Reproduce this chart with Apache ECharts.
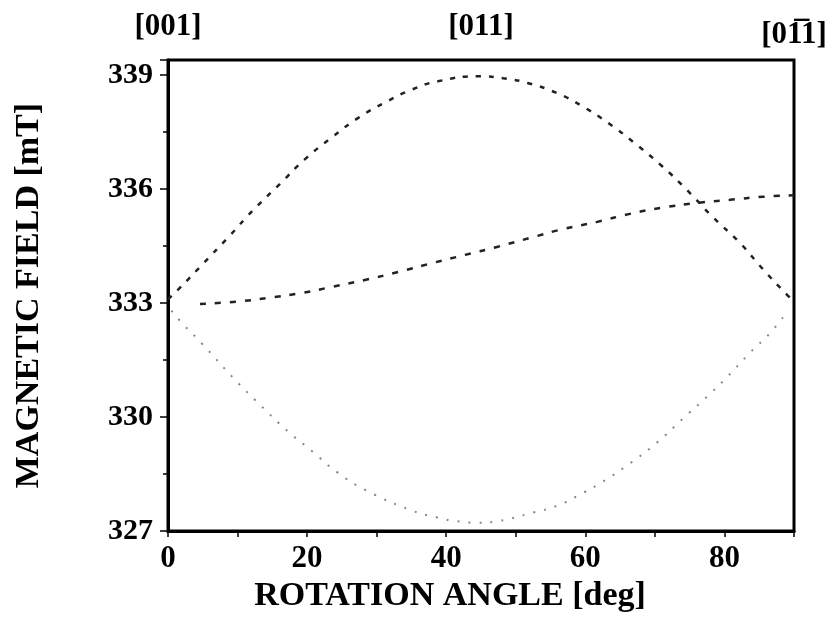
<!DOCTYPE html>
<html lang="en">
<head>
    <meta charset="UTF-8">
    <title>ESR rotation</title>
    <script src="https://cdn.jsdelivr.net/npm/echarts@6/dist/echarts.min.js"></script>
</head>
<style>
    *{
        margin: 0;
        padding: 0;
    }
    html,body{
        width: 100%;
        height: 100%;
        overflow: hidden;
        background: #fff;
    }
    .container{
        width: 836px;
        height: 618px;
    }
</style>
<body>
<div class="container"></div>
<script>
    // rotation angle [deg] vs resonance field [mT]
    let upperLine = [
        [0, 333.1], [1.7, 333.4], [5.0, 334.03], [8.8, 334.76], [12.2, 335.44], [16.1, 336.14],
        [19.7, 336.79], [23.6, 337.37], [27.3, 337.87], [31.3, 338.29], [34.9, 338.61],
        [38.8, 338.84], [44.9, 338.97], [48.2, 338.92], [51.8, 338.79], [55.9, 338.53],
        [59.5, 338.19], [63.3, 337.74], [67.1, 337.21], [71.0, 336.61], [74.6, 335.98],
        [78.3, 335.27], [82.2, 334.59], [85.5, 333.9], [89.0, 333.22], [90, 333.05]
    ];
    let middleLine = [
        [4.6, 332.98], [9.9, 333.04], [14.4, 333.14], [19.3, 333.27], [23.6, 333.43],
        [28.3, 333.61], [33.1, 333.82], [38.1, 334.06], [42.7, 334.27], [47.3, 334.48],
        [52.5, 334.74], [56.8, 334.95], [61.7, 335.14], [66.4, 335.35], [71.0, 335.51],
        [76.2, 335.64], [80.8, 335.72], [85.5, 335.8], [90, 335.84]
    ];
    let lowerLine = [
        [0.5, 332.8], [2.0, 332.48], [4.9, 331.93], [9.5, 331.01], [13.2, 330.33],
        [17.1, 329.65], [20.8, 329.09], [24.4, 328.54], [28.5, 328.07], [35.1, 327.54],
        [38.7, 327.36], [41.5, 327.26], [44.5, 327.22], [47.3, 327.26], [52.5, 327.49],
        [56.1, 327.68], [59.8, 328.02], [62.5, 328.3], [66.4, 328.78], [70.3, 329.33],
        [74.2, 329.99], [77.8, 330.59], [80.4, 331.06], [83.8, 331.72], [86.5, 332.2],
        [88.6, 332.67]
    ];
    let topLabels = ['[001]', '[011]', '[01\u03051]'];

    let font = "'Liberation Serif', 'Times New Roman', serif";
    let container = document.querySelector('.container');
    let mycharts = echarts.init(container);

    let option = {
        backgroundColor: '#fff',
        animation: false,
        grid: {
            left: 168,
            right: 42,
            top: 60,
            bottom: 86,
            show: true,
            borderColor: '#000',
            borderWidth: 3
        },
        xAxis: [{
            type: 'value',
            min: 0,
            max: 90,
            interval: 10,
            name: 'ROTATION ANGLE [deg]',
            nameLocation: 'middle',
            nameGap: 30,
            nameTextStyle: {
                fontFamily: font,
                fontWeight: 'bold',
                fontSize: 34,
                color: '#000',
                padding: [0, 62, 0, 0]
            },
            axisLine: {lineStyle: {color: '#000', width: 3}},
            axisTick: {length: 6, lineStyle: {color: '#000', width: 1.5}},
            splitLine: {show: false},
            axisLabel: {
                margin: 12,
                fontFamily: font,
                fontWeight: 'bold',
                fontSize: 31,
                color: '#000',
                formatter: function (v) {
                    return (v % 20 === 0 && v < 90) ? String(v) : '';
                }
            }
        }, {
            type: 'value',
            position: 'top',
            min: 0,
            max: 90,
            interval: 45,
            axisLine: {show: false},
            axisTick: {show: false},
            splitLine: {show: false},
            axisLabel: {
                margin: 10,
                fontFamily: font,
                fontWeight: 'bold',
                fontSize: 31,
                color: '#000',
                formatter: function (v) {
                    let i = Math.round(v / 45);
                    return i < 2 ? '{up|' + topLabels[i] + '}' : topLabels[i];
                },
                rich: {
                    up: {
                        fontFamily: font,
                        fontWeight: 'bold',
                        fontSize: 31,
                        color: '#000',
                        padding: [0, 0, 8, 0]
                    }
                }
            }
        }],
        yAxis: {
            type: 'value',
            min: 327,
            max: 339.4,
            interval: 3,
            name: 'MAGNETIC FIELD [mT]',
            nameLocation: 'middle',
            nameGap: 122,
            nameTextStyle: {
                fontFamily: font,
                fontWeight: 'bold',
                fontSize: 34,
                color: '#000'
            },
            axisLine: {lineStyle: {color: '#000', width: 3}},
            axisTick: {length: 8, lineStyle: {color: '#000', width: 1.5}},
            minorTick: {show: true, splitNumber: 2, length: 5, lineStyle: {color: '#000', width: 1.5}},
            splitLine: {show: false},
            axisLabel: {
                margin: 15,
                fontFamily: font,
                fontWeight: 'bold',
                fontSize: 30,
                color: '#000',
                showMaxLabel: false,
                formatter: function (v) {
                    return Number.isInteger(v) ? String(v) : '';
                }
            }
        },
        series: [{
            name: 'upper',
            type: 'line',
            data: upperLine,
            smooth: true,
            symbol: 'none',
            lineStyle: {color: '#222', width: 2.5, type: [5, 8]}
        }, {
            name: 'middle',
            type: 'line',
            data: middleLine,
            smooth: true,
            symbol: 'none',
            lineStyle: {color: '#222', width: 2.5, type: [6, 9]}
        }, {
            name: 'lower',
            type: 'line',
            data: lowerLine,
            smooth: true,
            symbol: 'none',
            lineStyle: {color: '#888', width: 2, type: [2, 9]}
        }]
    };

    mycharts.setOption(option);
</script>
</body>
</html>
